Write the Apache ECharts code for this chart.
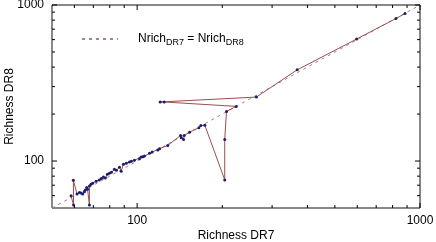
<!DOCTYPE html>
<html>
<head>
<meta charset="utf-8">
<script src="https://cdn.jsdelivr.net/npm/echarts@6/dist/echarts.min.js"></script>
<style>
html,body{margin:0;padding:0;background:#fff;}
#chart{width:436px;height:242px;}
</style>
</head>
<body>
<div id="chart"></div>
<script>
// Richness values (path order as drawn in the reference)
const richDR7 = [885, 822, 597, 368, 264, 120.6, 124.6, 224, 207, 204, 204, 173.5, 168, 165.3, 153.2, 146.7, 145.9, 143.2, 142.4, 128.3, 120, 118.3, 113, 110.6, 106.1, 104.7, 103.3, 101.9, 97.8, 95.4, 93.9, 91.6, 89.4, 87.8, 86.6, 84.5, 83.1, 81.1, 79.8, 78.5, 77.2, 76.0, 74.7, 73.5, 71.6, 69.6, 68.7, 67.8, 67.8, 66.8, 66.3, 65.6, 65.1, 64.2, 63.3, 62.5, 61.3, 59.5, 59.6, 58.4];
const richDR8 = [881, 819, 605, 384, 257, 239, 239, 224, 208, 137.5, 75.7, 169.6, 168.8, 163.2, 153, 145.8, 137.5, 141, 145.8, 125.9, 120, 117.5, 114.1, 112, 107.6, 106.7, 106.1, 103.6, 101, 99.6, 98.5, 96.7, 95.3, 86.0, 91.2, 87.2, 88.5, 84.7, 83.5, 82.3, 77.9, 79.1, 77.3, 75.7, 74.2, 72.1, 71.1, 69.3, 52.2, 65.9, 67.7, 65.3, 63.5, 61.4, 62.3, 62.9, 61.4, 75.3, 52.2, 59.8];
// equality line endpoints
const equalityLine = [50, 1000];
// axis range and ticks
const axisMin = 50, axisMax = 1000;
const tickLabels = [100, 1000];
const minorTickValues = [60, 70, 80, 90, 200, 300, 400, 500, 600, 700, 800, 900];
const majorTickValues = [100, 1000];
const xName = 'Richness DR7';
const yName = 'Richness DR8';
const diagName = 'Nrich_DR7 = Nrich_DR8';

const FONT = "'Liberation Sans', Arial, Helvetica, sans-serif";
const chart = echarts.init(document.getElementById('chart'), null, {renderer: 'canvas'});

const pts = richDR7.map((v, i) => [v, richDR8[i]]);

function labelFmt(v) {
  const r = Math.round(v);
  return tickLabels.indexOf(r) >= 0 ? String(r) : '';
}

// inward tick marks on the four sides, drawn as thin rect symbols placed by the axes
const allTicks = majorTickValues.map(v => [v, 5]).concat(minorTickValues.map(v => [v, 3]));
function tickSeries(side) {
  const data = allTicks.map(([v, len]) => {
    if (side === 'bottom') return {value: [v, axisMin], symbolSize: [1, len], symbolOffset: [0, -len / 2]};
    if (side === 'top') return {value: [v, axisMax], symbolSize: [1, len], symbolOffset: [0, len / 2]};
    if (side === 'left') return {value: [axisMin, v], symbolSize: [len, 1], symbolOffset: [len / 2, 0]};
    return {value: [axisMax, v], symbolSize: [len, 1], symbolOffset: [-len / 2, 0]};
  });
  return {type: 'scatter', symbol: 'rect', data: data, itemStyle: {color: '#000', opacity: 1},
          clip: false, z: 10, emphasis: {disabled: true}, tooltip: {show: false}};
}

chart.setOption({
  animation: false,
  backgroundColor: '#fff',
  grid: {left: 52, right: 16, top: 5, bottom: 34, outerBoundsMode: 'none', containLabel: false,
         show: true, borderColor: '#111', borderWidth: 1, backgroundColor: 'transparent'},
  legend: {
    data: [diagName],
    left: 76, top: 28,
    itemWidth: 36, itemHeight: 14,
    itemStyle: {opacity: 0},
    formatter: () => '{n|Nrich}{s|DR7}{n| = Nrich}{s|DR8}',
    textStyle: {
      padding: [0, 0, 0, 15],
      rich: {
        n: {fontSize: 12, fontFamily: FONT, color: '#000'},
        s: {fontSize: 9, fontFamily: FONT, color: '#000', verticalAlign: 'bottom', padding: [8, 0, 0, 0]}
      }
    }
  },
  xAxis: {
    type: 'log', logBase: 10, min: axisMin, max: axisMax,
    name: xName, nameLocation: 'middle', nameGap: 22, nameMoveOverlap: false,
    nameTextStyle: {fontSize: 12, fontFamily: FONT, color: '#000'},
    axisLine: {show: false}, axisTick: {show: false}, splitLine: {show: false}, minorTick: {show: false},
    axisLabel: {formatter: labelFmt, fontSize: 12, fontFamily: FONT, color: '#000', margin: 7, showMinLabel: false}
  },
  yAxis: {
    type: 'log', logBase: 10, min: axisMin, max: axisMax,
    name: yName, nameLocation: 'middle', nameGap: 36, nameMoveOverlap: false,
    nameTextStyle: {fontSize: 12, fontFamily: FONT, color: '#000'},
    axisLine: {show: false}, axisTick: {show: false}, splitLine: {show: false}, minorTick: {show: false},
    axisLabel: {formatter: labelFmt, fontSize: 12, fontFamily: FONT, color: '#000', margin: 8, showMinLabel: false}
  },
  series: [
    {
      name: diagName, type: 'line', data: equalityLine.map(v => [v, v]),
      symbol: 'none', color: '#9e8590', lineStyle: {color: '#9e8590', width: 1, type: [3, 4]}, silent: true, z: 1
    },
    {
      name: 'data', type: 'line', data: pts,
      symbol: 'circle', symbolSize: 3,
      lineStyle: {color: '#9a4f4f', width: 1},
      itemStyle: {color: '#1d1d70'}, z: 2
    },
    tickSeries('bottom'), tickSeries('top'), tickSeries('left'), tickSeries('right')
  ]
});
</script>
</body>
</html>
